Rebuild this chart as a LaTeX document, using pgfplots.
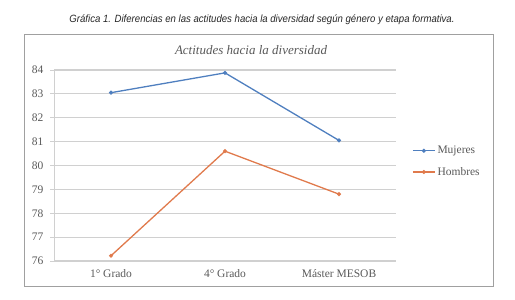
\documentclass[border=0pt]{standalone}
\usepackage{pgfplots}
\pgfplotsset{compat=1.18}
\usepackage{fontspec}
\setmainfont{Liberation Serif}
\newfontfamily\capfont{Liberation Sans}
\definecolor{mblue}{HTML}{4F7FBF}
\definecolor{horange}{HTML}{E07A4C}
\definecolor{txtgray}{HTML}{595959}
\definecolor{gridgray}{HTML}{D0D0D0}
\definecolor{framegray}{HTML}{A0A0A0}
\begin{document}
\begin{tikzpicture}[x=1bp,y=1bp]
\path[use as bounding box] (0,0) rectangle (515,299);
\draw[framegray, line width=1bp] (24,13) rectangle (493,265);
\node[anchor=center, text=black!85] at (262,279) {\resizebox{385bp}{\height}{\capfont\itshape\fontsize{10.5bp}{12bp}\selectfont Gráfica 1. Diferencias en las actitudes hacia la diversidad según género y etapa formativa.}};
\node[text=txtgray, anchor=center] at (251,249) {\fontsize{13bp}{15bp}\selectfont\itshape Actitudes hacia la diversidad};
\begin{axis}[
  at={(54bp,38bp)}, anchor=south west,
  scale only axis, width=342bp, height=191bp,
  xmin=-0.5, xmax=2.5, ymin=76, ymax=84,
  xtick={0,1,2}, xticklabels={1° Grado, 4° Grado, Máster MESOB},
  extra x ticks={-0.5,0.5,1.5,2.5}, extra x tick labels={},
  extra x tick style={major tick length=4bp, tick align=outside, tick style={gridgray, line width=1bp}},
  x tick style={draw=none},
  ytick={76,77,...,84},
  ymajorgrids, grid style={gridgray, line width=1.2bp},
  y tick style={gridgray, line width=1bp}, major tick length=4bp, tick align=outside,
  axis x line*=bottom, axis y line*=left,
  axis line style={gridgray, line width=1bp, -},
  tick label style={text=txtgray, font=\fontsize{11.5bp}{13bp}\selectfont},
  yticklabel style={xshift=-3bp},
  xticklabel style={yshift=-1bp},
  /pgf/number format/assume math mode=true,
  clip=false,
  legend style={at={(412bp-54bp,155bp-38bp)}, anchor=north west, draw=none, fill=none,
    font=\fontsize{11.5bp}{13bp}\selectfont, text=txtgray, row sep=8bp, inner sep=0pt},
  legend cell align=left,
  legend image code/.code={\draw[#1] (0bp,0bp) -- (22bp,0bp); \draw[#1, only marks] plot coordinates {(11bp,0bp)};},
]
\addplot[mblue, line width=1.3bp, mark=*, mark size=1.3bp] coordinates {(0,83.05) (1,83.88) (2,81.05)};
\addlegendentry{Mujeres}
\addplot[horange, line width=1.3bp, mark=*, mark size=1.3bp] coordinates {(0,76.22) (1,80.6) (2,78.8)};
\addlegendentry{Hombres}
\end{axis}
\end{tikzpicture}
\end{document}
